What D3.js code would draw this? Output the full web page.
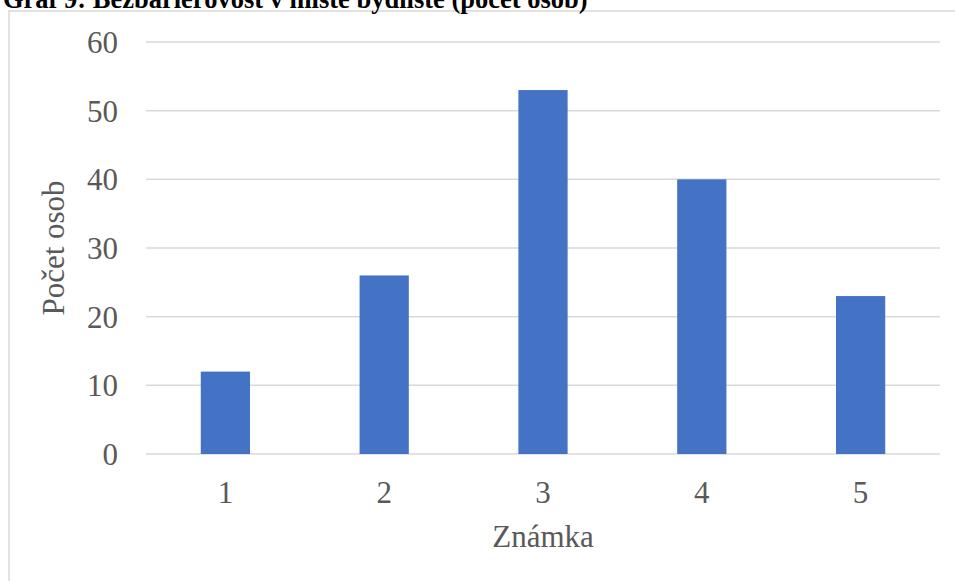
<!DOCTYPE html>
<html>
<head>
<meta charset="utf-8">
<script src="https://cdn.jsdelivr.net/npm/d3@7"></script>
<style>
  html, body { margin: 0; padding: 0; background: #fff; }
  svg { display: block; }
</style>
</head>
<body>
<svg id="chart" width="955" height="581"></svg>
<script>
// Grades and number of respondents per grade
const categories = ["1", "2", "3", "4", "5"];
const counts = [12, 26, 53, 40, 23];
const yTicks = [0, 10, 20, 30, 40, 50, 60];
const titleText = "Graf 9: Bezbariérovost v místě bydliště (počet osob)";
const xTitle = "Známka";
const yTitle = "Počet osob";

const svg = d3.select("#chart");
const W = 955, H = 581;
const plot = { left: 146, right: 940, top: 42, bottom: 454 };
const font = "'Liberation Serif', 'Times New Roman', serif";
const textColor = "#595959";
const labelSize = 31;

// Outer chart frame
svg.append("rect")
  .attr("x", 9).attr("y", 11)
  .attr("width", W - 9 + 5).attr("height", H)
  .attr("fill", "#fff")
  .attr("stroke", "#d9d9d9").attr("stroke-width", 1.5);

// Caption above the frame
svg.append("text")
  .attr("x", 3).attr("y", 8)
  .attr("font-family", font)
  .attr("font-weight", "bold")
  .attr("font-size", 26.5)
  .attr("fill", "#000")
  .text(titleText);

const x = d3.scaleBand()
  .domain(categories)
  .range([plot.left, plot.right])
  .paddingInner(0.69)
  .paddingOuter(0.345);

const y = d3.scaleLinear()
  .domain([0, 60])
  .range([plot.bottom, plot.top]);

// Horizontal gridlines
svg.append("g")
  .selectAll("line")
  .data(yTicks)
  .join("line")
  .attr("x1", plot.left).attr("x2", plot.right)
  .attr("y1", d => y(d)).attr("y2", d => y(d))
  .attr("stroke", "#d9d9d9").attr("stroke-width", 1.5);

// Bars
svg.append("g")
  .selectAll("rect")
  .data(categories.map((c, i) => ({ c, v: counts[i] })))
  .join("rect")
  .attr("x", d => x(d.c))
  .attr("width", x.bandwidth())
  .attr("y", d => y(d.v))
  .attr("height", d => y(0) - y(d.v))
  .attr("fill", "#4472c4");

// Y axis labels
const yAxis = svg.append("g")
  .attr("transform", `translate(${plot.left - 28},0)`)
  .call(d3.axisLeft(y).tickValues(yTicks).tickSize(0).tickPadding(0));
yAxis.select(".domain").remove();
yAxis.selectAll("text")
  .attr("font-family", font)
  .attr("font-size", labelSize)
  .attr("fill", textColor)
  .attr("dy", "0.34em");

// X axis labels
const xAxis = svg.append("g")
  .attr("transform", `translate(0,${plot.bottom + 49})`)
  .call(d3.axisBottom(x).tickSize(0).tickPadding(0));
xAxis.select(".domain").remove();
xAxis.selectAll("text")
  .attr("font-family", font)
  .attr("font-size", labelSize)
  .attr("fill", textColor)
  .attr("dy", 0);

// Axis titles
svg.append("text")
  .attr("x", (plot.left + plot.right) / 2)
  .attr("y", 547)
  .attr("text-anchor", "middle")
  .attr("font-family", font)
  .attr("font-size", labelSize)
  .attr("fill", textColor)
  .text(xTitle);

svg.append("text")
  .attr("transform", `translate(64,${(plot.top + plot.bottom) / 2}) rotate(-90)`)
  .attr("text-anchor", "middle")
  .attr("font-family", font)
  .attr("font-size", labelSize)
  .attr("fill", textColor)
  .text(yTitle);
</script>
</body>
</html>
